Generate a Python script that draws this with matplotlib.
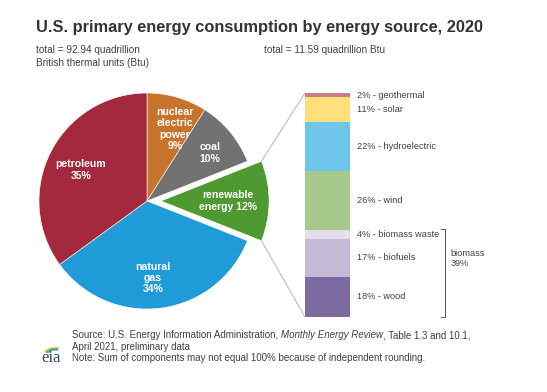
import numpy as np
import matplotlib
matplotlib.use('Agg')
import matplotlib.pyplot as plt
from matplotlib.patches import ConnectionPatch, Arc
import matplotlib.transforms as mtransforms

plt.rcParams['font.family'] = ['Liberation Sans', 'DejaVu Sans']

# data
sources = ['nuclear\nelectric\npower', 'coal', 'renewable\nenergy', 'natural\ngas', 'petroleum']
shares = [9, 10, 12, 34, 35]
pie_colors = ['#c7732b', '#717171', '#4f9a30', '#1f9bd7', '#a4293d']

renew_parts = ['wood', 'biofuels', 'biomass waste', 'wind', 'hydroelectric', 'solar', 'geothermal']
renew_shares = [18, 17, 4, 26, 22, 11, 2]
renew_colors = ['#7c6ba1', '#c3bbd6', '#e3e0eb', '#a8c98c', '#6ec5ea', '#fddf7c', '#c97f88']
biomass_total = 39

W, H = 547, 392
fig = plt.figure(figsize=(W / 100, H / 100), dpi=100)
fig.set_facecolor('white')

# pie axes
cx, cy, r = 147, 201, 108
half = 1.25 * r
pax = fig.add_axes([(cx - half) / W, (H - cy - half) / H, 2 * half / W, 2 * half / H])
explode = [0, 0, 0.13, 0, 0]
wedges, _ = pax.pie(shares, colors=pie_colors, startangle=90, counterclock=False,
                    explode=explode, frame=True,
                    wedgeprops=dict(edgecolor='white', linewidth=0.4))
pax.set_xlim(-1.25, 1.25)
pax.set_ylim(-1.25, 1.25)
pax.axis('off')

# stacked bar of renewables
bx0, bx1, by0, by1 = 305, 350, 93, 317
bax = fig.add_axes([bx0 / W, (H - by1) / H, (bx1 - bx0) / W, (by1 - by0) / H])
bottoms = np.concatenate([[0], np.cumsum(renew_shares)[:-1]])
bax.bar(0, renew_shares, width=1, bottom=bottoms, color=renew_colors, linewidth=0)
bax.set_xlim(-0.5, 0.5)
bax.set_ylim(0, sum(renew_shares))
bax.axis('off')

# overlay axes in pixel coords (y down), on top
ov = fig.add_axes([0, 0, 1, 1])
ov.set_xlim(0, W)
ov.set_ylim(H, 0)
ov.axis('off')
ov.set_zorder(10)

# pie labels (pixel positions)
lab_pos = [(175, 129), (210, 153), (228, 201), (153, 278), (81, 170)]
for name, s, (x, y) in zip(sources, shares, lab_pos):
    if name.startswith('renewable'):
        txt = f'renewable\nenergy {s}%'
    else:
        txt = f'{name}\n{s}%'
    ov.text(x, y, txt, ha='center', va='center', color='white', fontsize=7.6,
            fontweight='bold', linespacing=1.15)

trans = mtransforms.blended_transform_factory(bax.transAxes, bax.transData)
for name, s, b in zip(renew_parts, renew_shares, bottoms):
    bax.text(1.16, b + s / 2, f'{s}% - {name}', transform=trans, ha='left', va='center',
             fontsize=6.6, color='#404040', clip_on=False)

# biomass bracket
bax.plot([3.02, 3.11, 3.11, 3.02], [0, 0, 39.5, 39.5], transform=trans, color='#555555',
         lw=0.7, clip_on=False)
bax.text(3.24, 26, f'biomass\n{biomass_total}%', transform=trans, ha='left', va='center',
         fontsize=6.6, color='#404040', linespacing=1.15, clip_on=False)

# connector lines from renewable wedge to bar
w = wedges[2]
(wx, wy), wr = w.center, w.r
for ang, yb in [(w.theta1, 0), (w.theta2, sum(renew_shares))]:
    px = wx + wr * np.cos(np.radians(ang))
    py = wy + wr * np.sin(np.radians(ang))
    cp = ConnectionPatch(xyA=(px, py), coordsA=pax.transData, xyB=(-0.5, yb),
                         coordsB=bax.transData, color='#bdbdbd', lw=0.8)
    fig.add_artist(cp)

# titles
ov.text(36, 27, 'U.S. primary energy consumption by energy source, 2020', ha='left',
        va='center', fontsize=11.75, fontweight='bold', color='#333333')
ov.text(36, 50, 'total = 92.94 quadrillion', ha='left', va='center', fontsize=7.2,
        color='#404040')
ov.text(36, 63, 'British thermal units (Btu)', ha='left', va='center', fontsize=7.2,
        color='#404040')
ov.text(264, 50, 'total = 11.59 quadrillion Btu', ha='left', va='center', fontsize=7.2,
        color='#404040')

# footer with italic part
renderer = fig.canvas.get_renderer()
fx, fy = 72, 335
parts = [('Source: U.S. Energy Information Administration, ', 'normal'),
         ('Monthly Energy Review', 'italic'),
         (', Table 1.3 and 10.1,', 'normal')]
x = fx
for s, style in parts:
    t = ov.text(x, fy, s, ha='left', va='center', fontsize=7, style=style, color='#404040')
    bb = t.get_window_extent(renderer)
    x += bb.width
ov.text(fx, 346.5, 'April 2021, preliminary data', ha='left', va='center', fontsize=7,
        color='#404040')
ov.text(fx, 358, 'Note: Sum of components may not equal 100% because of independent rounding.',
        ha='left', va='center', fontsize=7, color='#404040')

# eia logo
ov.text(51, 358, 'eia', ha='center', va='center', fontsize=12, family='Liberation Serif',
        color='#2b4b6b')
for rad, col in [(11, '#f2c12e'), (9.5, '#6fb64a'), (8, '#2a9fd8')]:
    ov.add_patch(Arc((55, 355), 2 * rad, 1.3 * rad, theta1=195, theta2=300,
                     color=col, lw=1.1))

fig.savefig('out.png', dpi=100, facecolor='white')
